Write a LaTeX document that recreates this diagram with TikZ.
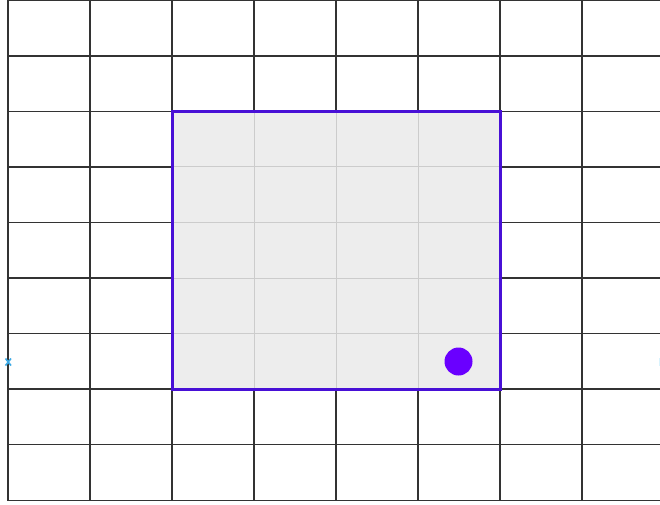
\documentclass[tikz,border=0pt]{standalone}
\definecolor{regionborder}{RGB}{72,16,214}
\definecolor{dotcolor}{RGB}{106,0,255}
\definecolor{markblue}{RGB}{60,170,230}
\begin{document}
\begin{tikzpicture}[x=1pt,y=-1pt,
  gridline/.style={draw=black!80,line width=1.3pt},
  innerline/.style={draw=black!20,line width=1pt},
  region/.style={draw=regionborder,line width=3pt,fill=black!7},
  marker/.style={circle,inner sep=0pt,minimum size=28pt,fill=dotcolor}]
\useasboundingbox (0,0) rectangle (660,504);
\fill[white] (0,0) rectangle (660,504);
% outer grid
\foreach \x in {8,90,172,254,336,418,500,582}
  \draw[gridline] (\x,0) -- (\x,500.5);
\foreach \y in {0.6,56,111.3,166.9,222.4,278,333.6,389.1,444.7,500.2}
  \draw[gridline] (8,\y) -- (660,\y);
% highlighted region
\draw[region] (172,111.3) rectangle (500,389.1);
\foreach \x in {254,336,418}
  \draw[innerline] (\x,112.8) -- (\x,387.6);
\foreach \y in {166.9,222.4,278,333.6}
  \draw[innerline] (173.5,\y) -- (498.5,\y);
\draw[region,fill=none] (172,111.3) rectangle (500,389.1);
\node[marker] (dot) at (458.5,361.5) {};
% small marks at the edges
\draw[markblue,line width=1.6pt] (5.5,358.5) -- (11,365.5) (5.5,365.5) -- (11,358.5);
\draw[cyan!15,line width=1pt] (659.5,358) -- (659.5,366);
\end{tikzpicture}
\end{document}
